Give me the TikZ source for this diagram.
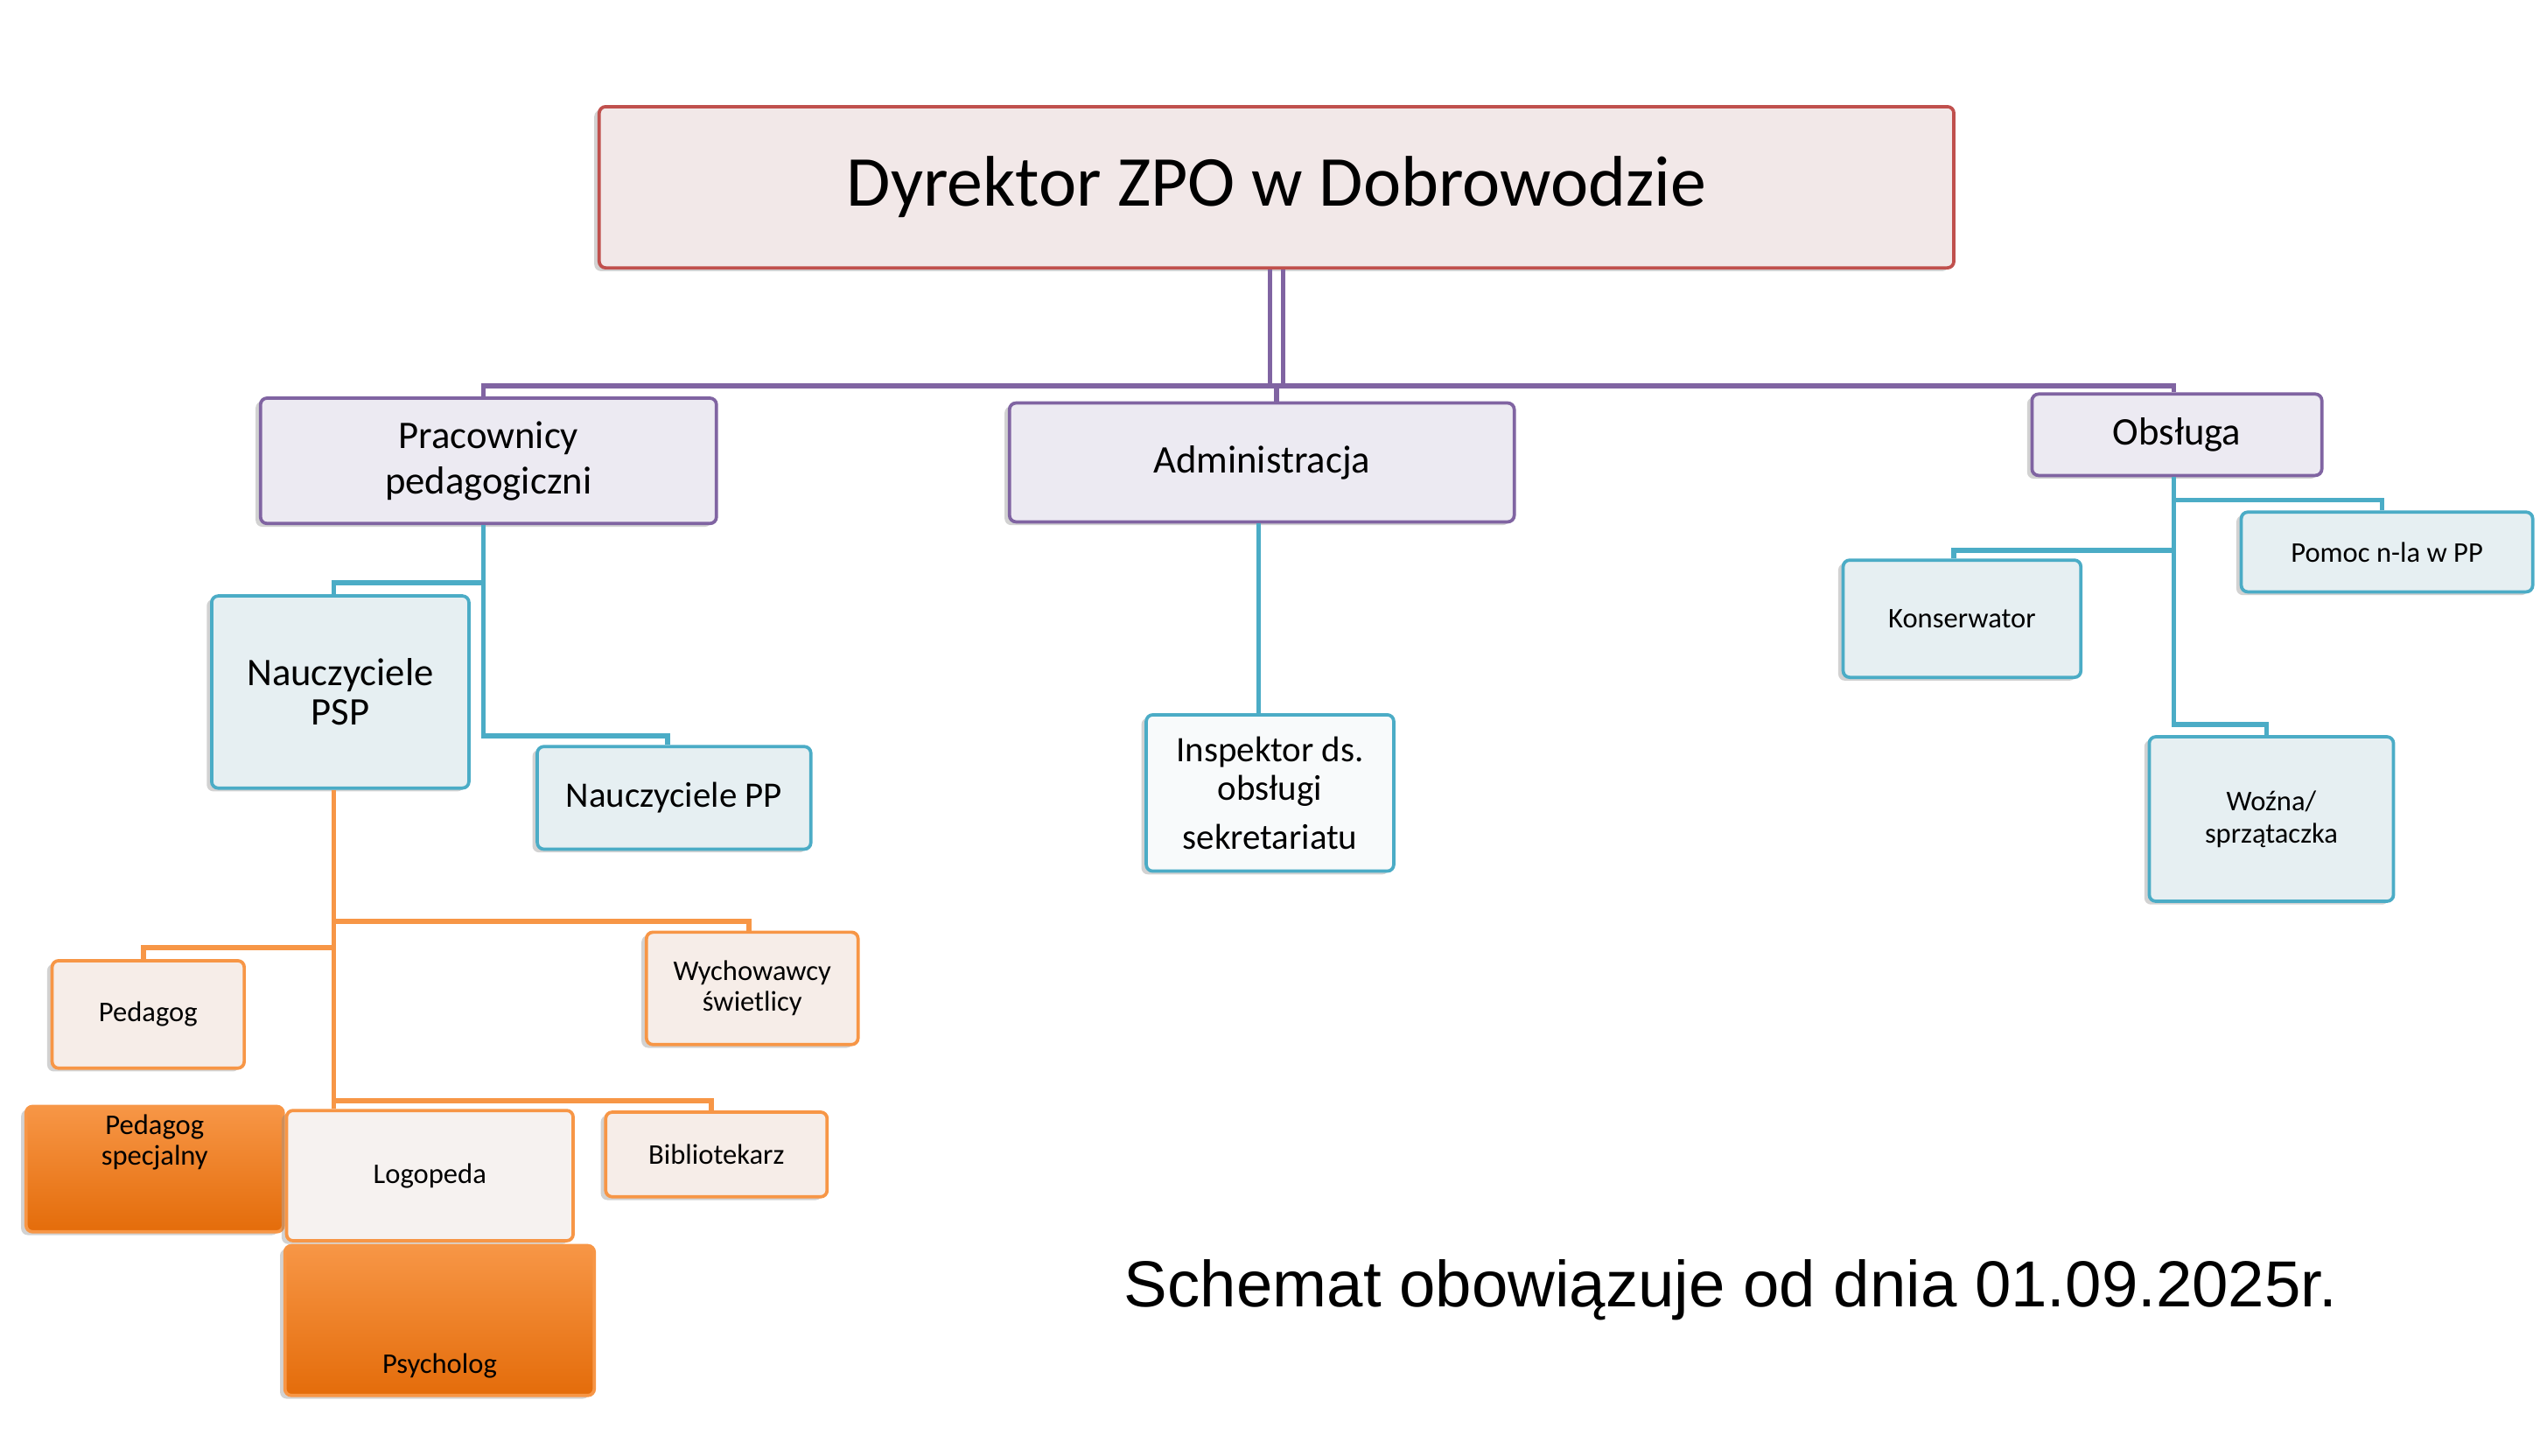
\documentclass[tikz,border=0pt]{standalone}
\usepackage{fontspec}
\setmainfont{Carlito}
\newfontfamily\arialfont{Liberation Sans}
\usetikzlibrary{shadows}
\definecolor{rd}{RGB}{192,80,77}
\definecolor{pu}{RGB}{128,100,162}
\definecolor{bl}{RGB}{75,172,198}
\definecolor{og}{RGB}{247,150,70}
\definecolor{ogd}{RGB}{228,108,10}
\tikzset{
  box/.style={draw, line width=2pt, rounded corners=4pt, align=center, inner sep=2pt,
    drop shadow={shadow xshift=-3pt, shadow yshift=-2pt, opacity=0.35}},
  topbox/.style={box, draw=rd, fill={rgb,255:red,242;green,232;blue,232}, font=\fontsize{44}{50}\selectfont},
  pubox/.style={box, draw=pu, fill={rgb,255:red,236;green,234;blue,242}, font=\fontsize{24}{28}\selectfont},
  blbox/.style={box, draw=bl, fill={rgb,255:red,230;green,239;blue,242}},
  ogbox/.style={box, draw=og, fill={rgb,255:red,246;green,237;blue,232}, font=\fontsize{17.5}{19}\selectfont},
  ogfill/.style={box, draw=og, top color=og, bottom color=ogd, font=\fontsize{17.5}{19}\selectfont},
  pul/.style={draw=pu, line width=3pt},
  bll/.style={draw=bl, line width=3pt},
  ogl/.style={draw=og, line width=3pt},
}
\begin{document}
\begin{tikzpicture}[x=1pt,y=1pt,yscale=-1]
\useasboundingbox[fill=white] (0,0) rectangle (1560,894);

% top level
\node[topbox, minimum width=832, minimum height=99] (dyr) at (784,115) {Dyrektor ZPO w Dobrowodzie};
\node[pubox, minimum width=280, minimum height=77] (ped) at (300,283) {Pracownicy\\pedagogiczni};
\node[pubox, minimum width=310, minimum height=73] (adm) at (775,284) {Administracja};
\node[pubox, minimum width=178, minimum height=50] (obs) at (1337,267) {Obsługa};

% blue level
\node[blbox, minimum width=158, minimum height=118, font=\fontsize{24}{24}\selectfont] (psp) at (209,425) {Nauczyciele\\PSP};
\node[blbox, minimum width=168, minimum height=63, font=\fontsize{22}{26}\selectfont] (npp) at (414,490) {Nauczyciele PP};
\node[blbox, fill={rgb,255:red,248;green,250;blue,251}, minimum width=152, minimum height=96, font=\fontsize{22}{30}\selectfont] (ins) at (780,487) {Inspektor ds.\\[-6pt]obsługi\\sekretariatu};
\node[blbox, minimum width=146, minimum height=72, font=\fontsize{17.5}{19}\selectfont] (kon) at (1205,380) {Konserwator};
\node[blbox, minimum width=179, minimum height=49, font=\fontsize{17.5}{19}\selectfont] (pom) at (1466,339) {Pomoc n-la w PP};
\node[blbox, minimum width=150, minimum height=101, font=\fontsize{17.5}{20}\selectfont] (woz) at (1395,503) {Woźna/\\sprzątaczka};

% orange level
\node[ogbox, minimum width=118, minimum height=66] (pdg) at (91,623) {Pedagog};
\node[ogbox, minimum width=130, minimum height=69] (wyc) at (462,607) {Wychowawcy\\świetlicy};
\node[ogfill, minimum width=158, minimum height=77, text depth=36pt] (pds) at (95,718) {Pedagog\\specjalny};
\node[ogbox, fill={rgb,255:red,246;green,242;blue,240}, minimum width=176, minimum height=80] (log) at (264,722) {Logopeda};
\node[ogbox, minimum width=136, minimum height=52] (bib) at (440,709) {Bibliotekarz};
\node[ogfill, minimum width=190, minimum height=92] (psy) at (270,811) {};
\node[font=\fontsize{17.5}{19}\selectfont] (psyt) at (270,839) {Psycholog};

% connectors
\coordinate (hub) at (784,237);
\draw[pul] ([xshift=-4pt]dyr.south) -- ([xshift=-4pt]hub);
\draw[pul] ([xshift=4pt]dyr.south) -- ([xshift=4pt]hub);
\draw[pul] (hub) -| (ped.north -| 297,0);
\draw[pul] (hub) -| (obs.north -| 1335,0);
\draw[pul] (hub) -- (adm.north -| hub);

\draw[bll] (ped.south -| 297,0) |- (410,452) -- (npp.north -| 410,0);
\draw[bll] (297,358) -| (psp.north -| 205,0);
\draw[bll] (adm.south -| 773,0) -- (ins.north -| 773,0);
\draw[bll] (obs.south -| 1335,0) |- (1392,445) -- (woz.north -| 1392,0);
\draw[bll] (1335,338) -| (kon.north -| 1200,0);
\draw[bll] (1335,307) -| (pom.north -| 1463,0);

\draw[ogl] (psp.south -| 205,0) -- (205,678) -- (log.north -| 205,0);
\draw[ogl] (205,566) -| (wyc.north -| 460,0);
\draw[ogl] (205,582) -| (pdg.north -| 88,0);
\draw[ogl] (205,676) -| (bib.north -| 437,0);

% caption
\node[font=\arialfont\fontsize{40}{46}\selectfont] (cap) at (1063,792) {Schemat obowiązuje od dnia 01.09.2025r.};
\end{tikzpicture}
\end{document}
